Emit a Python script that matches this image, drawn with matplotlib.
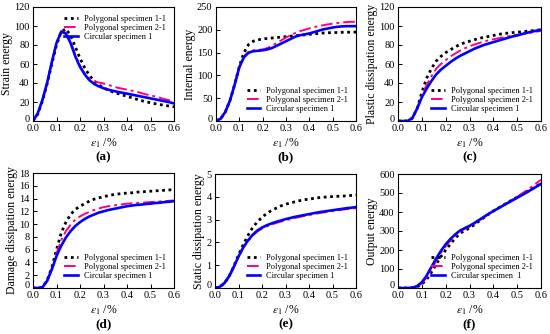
import matplotlib
matplotlib.use("Agg")
from matplotlib import pyplot as plt
import matplotlib.transforms as mtransforms

plt.rcParams["font.family"] = ["Liberation Serif", "DejaVu Serif"]
plt.rcParams["mathtext.fontset"] = "stix"

# strain in %
strain = [0.00, 0.02, 0.04, 0.06, 0.08, 0.10, 0.12, 0.14, 0.16, 0.18, 0.20,
          0.22, 0.24, 0.26, 0.28, 0.30, 0.32, 0.34, 0.36, 0.38, 0.40,
          0.42, 0.44, 0.46, 0.48, 0.50, 0.52, 0.54, 0.56, 0.58, 0.60]

labels = ["Polygonal specimen 1-1", "Polygonal specimen 2-1", "Circular specimen 1"]

# (a) strain energy
strain_p11 = [0, 7, 21, 39, 60, 80, 94, 97, 90, 78, 66, 56, 48, 42, 38, 35, 32.5, 30.5,
              29, 27.5, 26, 24.5, 23, 21.5, 20.3, 19.2, 18.2, 17.3, 16.5, 15.7, 15]
strain_p21 = [0, 8, 22, 40, 62, 82, 94.5, 93, 83, 70, 58, 50, 45, 42, 40.5, 39.5, 38,
              36.5, 35, 34, 33, 32, 30.8, 29.5, 28, 27, 25.8, 24.5, 23, 21.8, 20.5]
strain_c1 = [0, 8, 22, 40, 62, 82, 94, 92, 82, 68, 57, 49, 43, 39, 36.5, 34.5, 33, 31.8,
             30.7, 29.7, 28.8, 27.8, 26.8, 25.8, 24.8, 23.8, 22.8, 21.8, 20.8, 19.8, 18.5]

# (b) internal energy
internal_p11 = [0, 5, 20, 45, 80, 120, 150, 168, 175, 178, 180, 181, 182, 183, 184, 185,
                186, 187, 188, 189, 190, 191, 192, 193, 193.5, 194, 194, 194.5, 194.5, 195, 195]
internal_p21 = [0, 5, 20, 45, 80, 118, 142, 152, 155, 156, 157, 160, 165, 171, 177, 183,
                188, 193, 197, 200, 203, 206, 208, 210, 212, 213.5, 215, 216, 217, 217.5, 217.5]
internal_c1 = [0, 5, 20, 45, 80, 118, 140, 150, 153, 154, 155, 157, 160, 165, 170, 175,
               180, 185, 188, 190, 192, 195, 198, 201, 203, 205, 206.5, 207.5, 208, 208, 208]

# (c) plastic dissipation energy
plastic_p11 = [0, 0, 0, 3, 13, 30, 45, 55, 63, 68, 72, 75, 78, 80.5, 82.5, 84, 85.5, 87,
               88, 89, 90, 91, 92, 92.5, 93, 93.5, 94, 94.5, 95, 95.5, 96]
plastic_p21 = [0, 0, 0, 3, 13, 27, 38, 47, 55, 60, 64, 68, 71, 74, 76.5, 78.5, 80.5, 82,
               83.5, 85, 86, 87, 88, 89, 90, 90.8, 91.5, 92.3, 93, 94, 95]
plastic_c1 = [0, 0, 0, 3, 13, 25, 34, 42, 49, 54, 58, 62, 65.5, 68.5, 71, 73.5, 76, 78,
              80, 81.5, 83, 84.5, 86, 87.5, 89, 90, 91.5, 92.8, 94, 95, 96]

# (d) damage dissipation energy
damage_p11 = [0, 0, 0.1, 1.2, 3.2, 6, 8.6, 10.3, 11.5, 12.3, 12.8, 13.2, 13.6, 13.9, 14.1,
              14.3, 14.45, 14.6, 14.7, 14.8, 14.85, 14.9, 15.0, 15.05, 15.1, 15.15, 15.2,
              15.25, 15.3, 15.35, 15.4]
damage_p21 = [0, 0, 0.1, 1.1, 3.0, 5.4, 7.5, 8.9, 9.9, 10.7, 11.2, 11.6, 11.9, 12.2, 12.45,
              12.65, 12.8, 12.9, 13.0, 13.1, 13.2, 13.25, 13.3, 13.35, 13.4, 13.45, 13.5,
              13.55, 13.6, 13.65, 13.7]
damage_c1 = [0, 0, 0.1, 1.1, 2.9, 5.0, 6.6, 7.9, 8.9, 9.7, 10.3, 10.8, 11.2, 11.5, 11.8,
             12.0, 12.2, 12.35, 12.5, 12.65, 12.8, 12.9, 13.0, 13.05, 13.15, 13.2, 13.3,
             13.35, 13.45, 13.5, 13.6]

# (e) static dissipation energy
static_p11 = [0, 0.05, 0.2, 0.5, 0.95, 1.45, 1.9, 2.3, 2.65, 2.9, 3.1, 3.27, 3.4, 3.5, 3.6,
              3.67, 3.73, 3.78, 3.83, 3.87, 3.9, 3.93, 3.96, 3.98, 4.0, 4.01, 4.02, 4.03,
              4.04, 4.06, 4.08]
static_p21 = [0, 0.05, 0.2, 0.48, 0.9, 1.35, 1.75, 2.05, 2.3, 2.48, 2.6, 2.7, 2.78, 2.85,
              2.91, 2.97, 3.02, 3.07, 3.12, 3.16, 3.2, 3.24, 3.28, 3.31, 3.34, 3.37, 3.4,
              3.43, 3.46, 3.48, 3.5]
static_c1 = [0, 0.05, 0.22, 0.52, 0.93, 1.38, 1.78, 2.08, 2.33, 2.52, 2.65, 2.75, 2.83, 2.9,
             2.96, 3.02, 3.07, 3.12, 3.16, 3.2, 3.24, 3.28, 3.32, 3.35, 3.38, 3.41, 3.44,
             3.47, 3.5, 3.52, 3.55]

# (f) output energy
output_p11 = [0, 0, 0, 1, 6, 20, 45, 82, 125, 165, 200, 232, 262, 287, 303, 315, 333, 352,
              370, 388, 405, 420, 435, 450, 464, 478, 492, 506, 520, 535, 550]
output_p21 = [0, 0, 0, 2, 8, 25, 55, 97, 142, 185, 220, 250, 276, 297, 312, 322, 338, 355,
              372, 389, 405, 420, 435, 450, 465, 480, 497, 514, 532, 551, 570]
output_c1 = [0, 0, 0, 2, 10, 30, 65, 110, 155, 195, 230, 258, 282, 302, 315, 327, 342, 358,
             374, 390, 405, 419, 433, 447, 461, 475, 489, 503, 518, 533, 548]

panels = [
    ("Strain energy", strain_p11, strain_p21, strain_c1, 120, 20, "(a)", "upper right"),
    ("Internal energy", internal_p11, internal_p21, internal_c1, 250, 50, "(b)", "lower right"),
    ("Plastic dissipation energy", plastic_p11, plastic_p21, plastic_c1, 120, 20, "(c)", "lower right"),
    ("Damage dissipation energy", damage_p11, damage_p21, damage_c1, 18, 2, "(d)", "lower right"),
    ("Static dissipation energy", static_p11, static_p21, static_c1, 5, 1, "(e)", "lower right"),
    ("Output energy", output_p11, output_p21, output_c1, 600, 100, "(f)", "lower right"),
]

# axes boxes in pixels: left, top, right, bottom
boxes = [(33, 7, 174, 121), (216, 7, 356, 121), (398, 7, 541, 121),
         (33, 173, 174, 288), (215, 174, 356, 288), (398, 174, 541, 288)]

W, H = 550, 334
fig = plt.figure(figsize=(W / 100, H / 100), dpi=100)

for i, ((ylab, p11, p21, c1, ymax, ystep, tag, loc), (l, t, r, b)) in enumerate(zip(panels, boxes)):
    ax = fig.add_axes([l / W, 1 - b / H, (r - l) / W, (b - t) / H])
    ax.plot(strain, p11, color="black", linestyle=(0, (1, 1.3)), linewidth=2.0,
            label=labels[0])
    ax.plot(strain, p21, color="#ff0080", linestyle=(0, (6, 2, 1.5, 2)), linewidth=1.4,
            label=labels[1])
    c_label = "Circular specimen  1" if i == 5 else labels[2]
    ax.plot(strain, c1, color="#0000ff", linestyle="-", linewidth=1.9, label=c_label)
    ax.set_xlim(0, 0.6)
    ax.set_ylim(0, ymax)
    ax.set_xticks([0.0, 0.1, 0.2, 0.3, 0.4, 0.5, 0.6])
    ax.set_yticks(list(range(0, ymax + 1, ystep)))
    ax.tick_params(direction="in", labelsize=7.5, length=3, width=0.7)
    ax.tick_params(axis="x", pad=2.5)
    ax.tick_params(axis="y", pad=2.5)
    # lift the "0" on the y axis a little so it clears the "0.0" below it
    zero = ax.get_yticklabels()[0]
    zero.set_transform(zero.get_transform()
                       + mtransforms.ScaledTranslation(0, 3 / 100, fig.dpi_scale_trans))
    for s in ax.spines.values():
        s.set_linewidth(0.8)
    ax.set_ylabel(ylab, fontsize=8.5, labelpad=1)
    ax.set_xlabel(r"$\varepsilon_1$ /%", fontsize=8.5)
    ax.xaxis.label.set_va("center")
    ax.xaxis.set_label_coords(0.5, -22 / (b - t))
    ax.legend(loc=loc, frameon=False, fontsize=6, handlelength=1.6,
              labelspacing=0.1, borderaxespad=0.6, handletextpad=0.7)
    fig.text((l + r) / 2 / W, 1 - (b + 36) / H, tag, ha="center", va="center",
             fontsize=9.5, fontweight="bold")

fig.savefig("out.png", dpi=100)
